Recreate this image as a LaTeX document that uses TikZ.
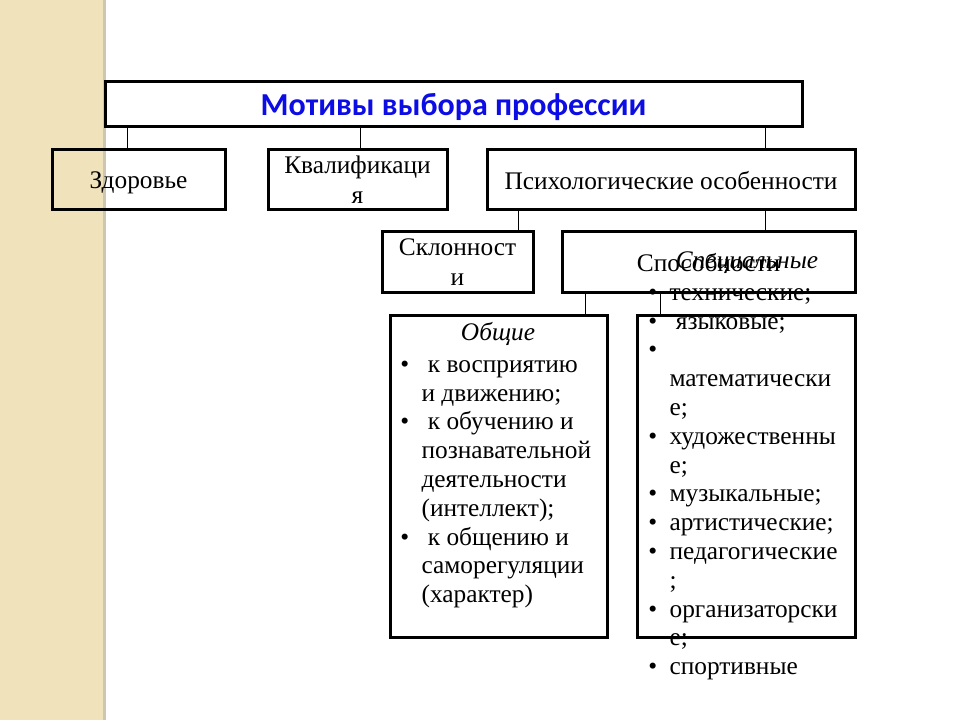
\documentclass[tikz,border=0pt]{standalone}
\usepackage{fontspec}
\setmainfont{Liberation Serif}
\newfontfamily\titlefont{Carlito}
\usetikzlibrary{positioning}

\definecolor{strip}{RGB}{240,226,186}
\definecolor{stripedge}{RGB}{205,198,178}
\definecolor{titleblue}{RGB}{12,12,228}

\tikzset{
  box/.style={draw,line width=2.25pt,inner sep=0pt},
  link/.style={line width=0.75pt},
  body/.style={font=\fontsize{19}{21.6}\selectfont,inner sep=0pt}
}
\newcommand{\bl}{\makebox[16pt][l]{\textbullet}}
\newcommand{\nb}{\hspace*{16pt}}

\begin{document}
\begin{tikzpicture}[x=0.75pt,y=-0.75pt]
  \useasboundingbox (0,0) rectangle (960,720);
  % background strip
  \fill[strip] (0,0) rectangle (104,720);
  \fill[stripedge] (103,0) rectangle (106,720);

  % boxes
  \node[box,minimum width=697*0.75pt,minimum height=45*0.75pt] (title) at (453.5,104.5) {};
  \node[text=titleblue,font=\titlefont\bfseries\fontsize{24}{28}\selectfont] (titletext) at (453.5,107) {Мотивы выбора профессии};

  \node[box,minimum width=173*0.75pt,minimum height=60*0.75pt,body,text depth=0pt] (health) at (138.5,180) {Здоровье};
  \node[box,minimum width=179*0.75pt,minimum height=60*0.75pt,body,text depth=0pt,align=center] (qual) at (357.5,180) {Квалификаци\\[1.0pt]я};
  \node[box,minimum width=368*0.75pt,minimum height=60*0.75pt,body,text depth=0pt] (psych) at (671,180) {Психологические особенности};

  \node[box,minimum width=151*0.75pt,minimum height=61*0.75pt,body,text depth=0pt,align=center] (incl) at (457.5,262.5) {Склонност\\[1.0pt]и};
  \node[box,minimum width=293*0.75pt,minimum height=61*0.75pt,body] (abil) at (708.5,262.5) {Способности};

  \node[box,minimum width=217*0.75pt,minimum height=322*0.75pt] (gen) at (498.5,476) {};
  \node[box,minimum width=218*0.75pt,minimum height=322*0.75pt] (spec) at (746,476) {};

  % connectors
  \draw[link] (title.south -| 127,0) -- (health.north -| 127,0);
  \draw[link] (title.south -| 360,0) -- (qual.north -| 360,0);
  \draw[link] (title.south -| 765,0) -- (psych.north -| 765,0);
  \draw[link] (psych.south -| 518,0) -- (incl.north -| 518,0);
  \draw[link] (psych.south -| 765,0) -- (abil.north -| 765,0);
  \draw[link] (abil.south -| 585,0) -- (gen.north -| 585,0);
  \draw[link] (abil.south -| 660,0) -- (spec.north -| 660,0);

  % texts of the lower boxes
  \node[body,font=\fontsize{19}{21.6}\selectfont\itshape] (genhead) at (498,334) {Общие};
  \node[body,align=left,anchor=north west] (genlist) at (400,360)
    {\bl\ к восприятию\\
     \nb и движению;\\
     \bl\ к обучению и\\
     \nb познавательной\\
     \nb деятельности\\
     \nb (интеллект);\\
     \bl\ к общению и\\
     \nb саморегуляции\\
     \nb (характер)};

  \node[body,font=\fontsize{19}{21.6}\selectfont\itshape] (spechead) at (747,263) {Специальные};
  \node[body,align=left,anchor=north west] (speclist) at (648,288)
    {\bl технические;\\
     \bl\ языковые;\\
     \bl\\
     \nb математически\\
     \nb е;\\
     \bl художественны\\
     \nb е;\\
     \bl музыкальные;\\
     \bl артистические;\\
     \bl педагогические\\
     \nb ;\\
     \bl организаторски\\
     \nb е;\\
     \bl спортивные};
\end{tikzpicture}
\end{document}
